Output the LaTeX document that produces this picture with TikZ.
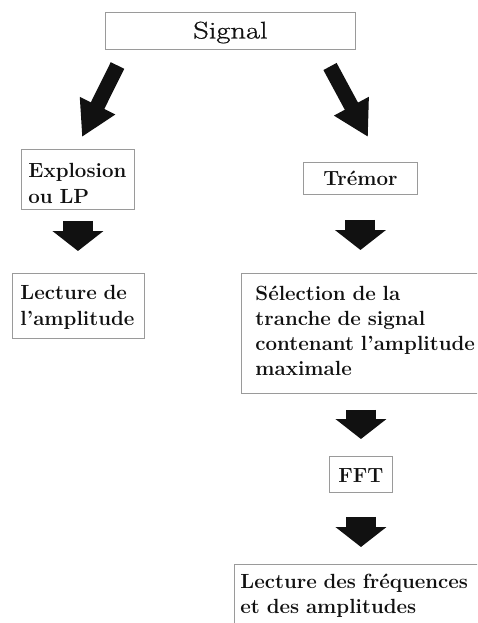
\documentclass[tikz,border=0pt]{standalone}
\usepackage{fontspec}
\usepackage{graphicx}
\usetikzlibrary{arrows.meta}
\newfontfamily\sigfont{Latin Modern Roman}[FakeBold=0.8]
\definecolor{ink}{HTML}{111111}
\definecolor{frame}{HTML}{9A9A9A}
\tikzset{
  box/.style={draw=frame, line width=0.9pt, rectangle, anchor=north west,
              inner ysep=0pt, text=ink, align=left},
  bftext/.style={font=\bfseries\fontsize{20.5}{26}\selectfont},
  bftight/.style={font=\bfseries\fontsize{20.5}{25}\selectfont},
  bigarrow/.style={draw=ink, line width=30pt, -{Triangle[length=20pt,width=50pt]}},
  slantarrow/.style={draw=ink, line width=15pt, -{Triangle[length=35pt,width=37pt]}},
}
\begin{document}
\begin{tikzpicture}[x=1pt, y=-1pt]
\clip (0,0) rectangle (477,623);
\fill[white] (0,0) rectangle (477,623);

% boxes
\node[box, inner xsep=0pt, text width=250pt, text height=26pt, text depth=11pt,
      align=center, font=\sigfont\fontsize{24}{28}\selectfont] (signal) at (105,12)
      {\scalebox{1.27}[1]{Signal}};
\node[box, bftext, inner xsep=7pt, text width=99pt, text height=28pt, text depth=32pt]
      (expl) at (21,149) {Explosion\\ou LP};
\node[box, bftext, inner xsep=8pt, text width=116pt, text height=26pt, text depth=39pt]
      (lect) at (12,273) {Lecture de\\l'amplitude};
\node[box, bftext, inner xsep=0pt, text width=114pt, text height=23pt, text depth=9pt,
      align=center] (trem) at (303,162) {Trémor};
\node[box, bftight, inner xsep=14pt, text width=222pt, text height=27pt, text depth=93pt]
      (sel) at (241,273) {Sélection de la\\tranche de signal\\contenant l'amplitude\\maximale};
\node[box, bftext, inner xsep=0pt, text width=63pt, text height=26pt, text depth=10pt,
      align=center] (fft) at (329,456) {FFT};
\node[box, bftight, inner xsep=6pt, text width=236pt, text height=24pt, text depth=80pt]
      (last) at (234,564) {Lecture des fréquences\\et des amplitudes};

% slanted arrows
\coordinate (la1) at (117.5,65.5);
\coordinate (la2) at (82,137);
\coordinate (ra1) at (330,66.5);
\coordinate (ra2) at (368,137);
\draw[slantarrow] (la1) -- (la2);
\draw[slantarrow] (ra1) -- (ra2);

% vertical arrows
\draw[bigarrow, shorten <=11pt, shorten >=22pt] (expl.south) -- (expl.south |- lect.north);
\draw[bigarrow, shorten <=25pt, shorten >=23pt] (trem.south) -- (trem.south |- sel.north);
\draw[bigarrow, shorten <=16pt, shorten >=17pt] (fft.north |- sel.south) -- (fft.north);
\draw[bigarrow, shorten <=24pt, shorten >=17pt] (fft.south) -- (fft.south |- last.north);
\end{tikzpicture}
\end{document}
